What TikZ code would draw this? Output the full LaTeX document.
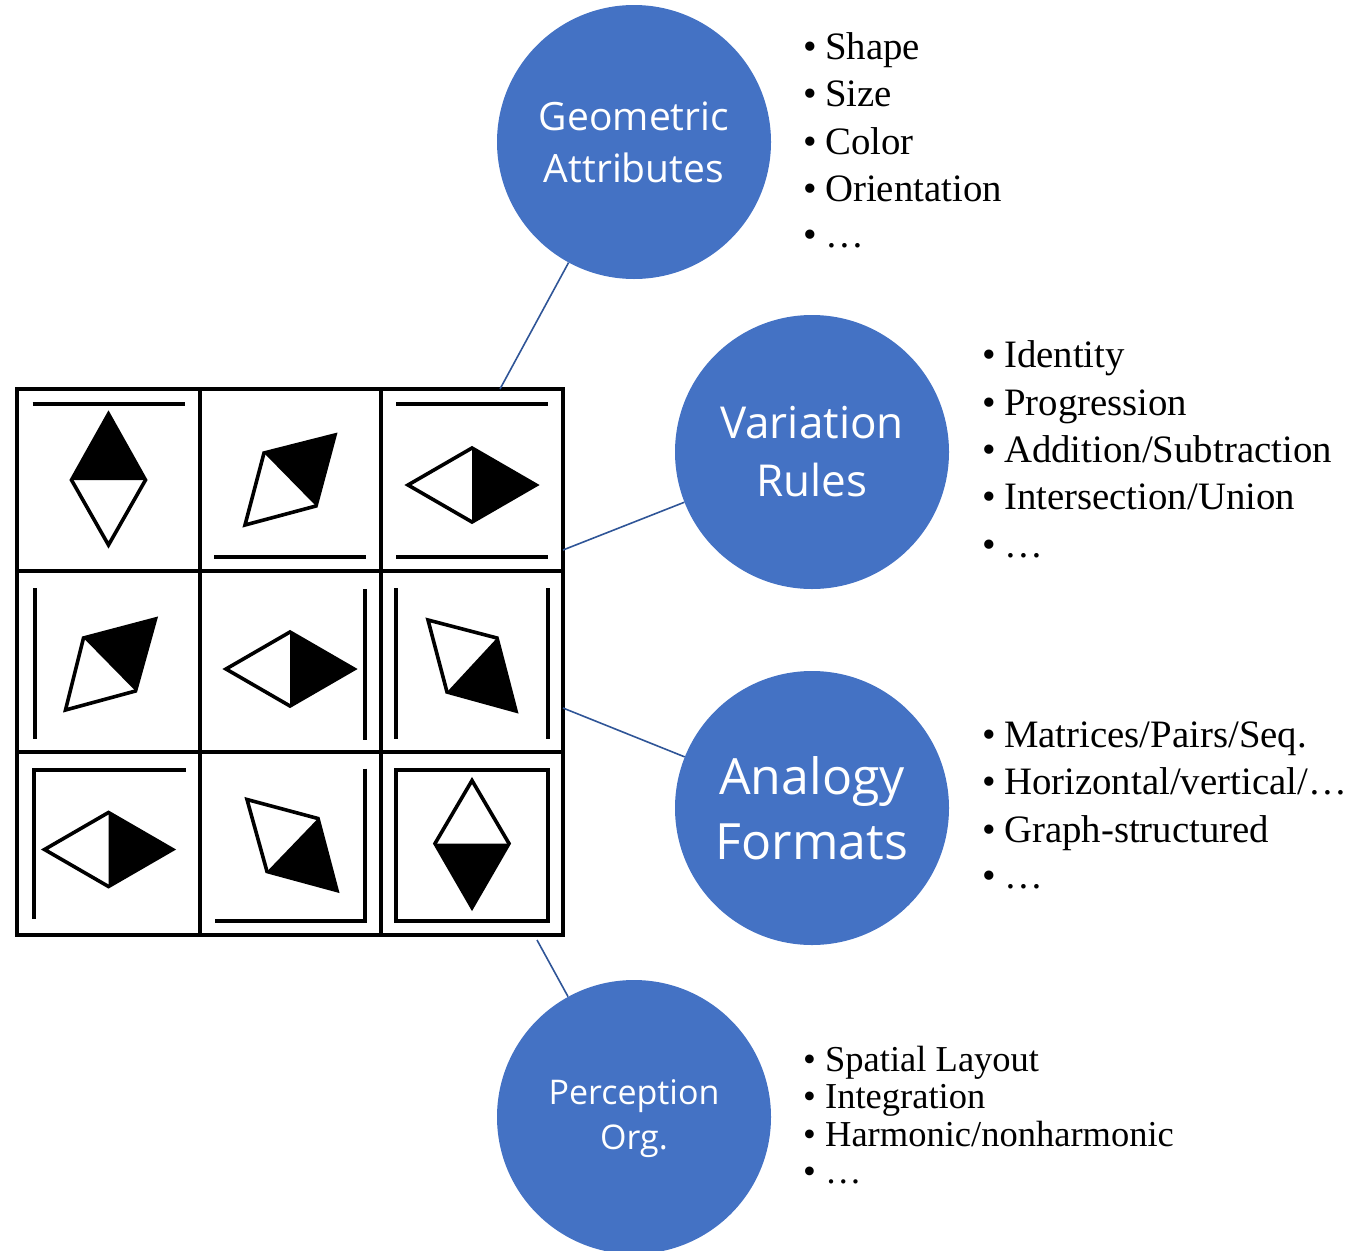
\documentclass[tikz,border=0pt]{standalone}
\usepackage{fontspec}
\setmainfont{Liberation Serif}
\setsansfont{Open Sans}
\usetikzlibrary{positioning}
\definecolor{topicblue}{HTML}{4472C4}
\definecolor{linkblue}{HTML}{2F5597}
\newcommand{\itm}{\makebox[22pt][l]{\textbullet}}
\begin{document}
\begin{tikzpicture}[x=1pt,y=-1pt,
    topic/.style={circle,fill=topicblue,text=white,minimum size=274pt,
      inner sep=0pt,align=center},
    item/.style={anchor=base west,inner sep=0pt,
      font=\fontsize{38.8}{46}\selectfont},
    smallitem/.style={item,font=\fontsize{36.5}{40}\selectfont},
    link/.style={draw=linkblue,line width=1.6pt},
    shp/.style={line width=3.6pt,line join=miter},
    bar/.style={line width=4pt}]

    \useasboundingbox (0,0) rectangle (1367,1250);

    % the matrix
    \node[draw,line width=4pt,minimum size=546pt,inner sep=0pt] (grid) at (290,662) {};
    \draw[line width=4pt] (200,389) -- (200,935);
    \draw[line width=4pt] (381,389) -- (381,935);
    \draw[line width=4pt] (17,571) -- (563,571);
    \draw[line width=4pt] (17,752) -- (563,752);

    % row 1
    \begin{scope}[shift={(108.5,480)}]
      \draw[bar] (-76,-76) -- (76,-76);
      \fill (0,-66) -- (37,0) -- (-37,0) -- cycle;
      \draw[shp] (0,-66) -- (37,0) -- (0,65) -- (-37,0) -- cycle;
    \end{scope}
    \begin{scope}[shift={(290,480)}]
      \draw[bar] (-76,77) -- (76,77);
      \fill (-26,-27) -- (45,-45) -- (26,26) -- cycle;
      \draw[shp] (-26,-27) -- (45,-45) -- (26,26) -- (-45,45) -- cycle;
    \end{scope}
    \begin{scope}[shift={(472,480)}]
      \draw[bar] (-76,-76) -- (76,-76);
      \draw[bar] (-76,77) -- (76,77);
      \fill (0,-32) -- (64,5) -- (0,42) -- cycle;
      \draw[shp] (-64,5) -- (0,-32) -- (64,5) -- (0,42) -- cycle;
    \end{scope}

    % row 2
    \begin{scope}[shift={(108.5,662)}]
      \draw[bar] (-74,-74) -- (-74,77);
      \fill (-25,-24) -- (47,-43) -- (27,29) -- cycle;
      \draw[shp] (-25,-24) -- (47,-43) -- (27,29) -- (-43,48) -- cycle;
    \end{scope}
    \begin{scope}[shift={(290,662)}]
      \draw[bar] (75,-73) -- (75,78);
      \fill (0,-30) -- (64,7) -- (0,44) -- cycle;
      \draw[shp] (-64,7) -- (0,-30) -- (64,7) -- (0,44) -- cycle;
    \end{scope}
    \begin{scope}[shift={(472,662)}]
      \draw[bar] (-76,-74) -- (-76,77);
      \draw[bar] (76,-74) -- (76,77);
      \fill (25,-24) -- (44,49) -- (-25,30) -- cycle;
      \draw[shp] (-44,-42) -- (25,-24) -- (44,49) -- (-25,30) -- cycle;
    \end{scope}

    % row 3
    \begin{scope}[shift={(108.5,843.5)}]
      \draw[bar] (-75,75) -- (-75,-74) -- (77,-74);
      \fill (0,-31) -- (64,6) -- (0,43) -- cycle;
      \draw[shp] (-64,6) -- (0,-31) -- (64,6) -- (0,43) -- cycle;
    \end{scope}
    \begin{scope}[shift={(290,843.5)}]
      \draw[bar] (75,-75) -- (75,77) -- (-75,77);
      \fill (28,-25) -- (47,47) -- (-23,28) -- cycle;
      \draw[shp] (-43,-44) -- (28,-25) -- (47,47) -- (-23,28) -- cycle;
    \end{scope}
    \begin{scope}[shift={(472,843.5)}]
      \draw[bar] (-76,-74) rectangle (76,77);
      \fill (-37,0) -- (37,0) -- (0,64) -- cycle;
      \draw[shp] (0,-63) -- (37,0) -- (0,64) -- (-37,0) -- cycle;
    \end{scope}

    % the topics
    \node[topic,font=\sffamily\fontsize{39}{52}\selectfont] (ga) at (634,142) {Geometric\\Attributes};
    \node[topic,font=\sffamily\fontsize{44}{58}\selectfont] (vr) at (812,452) {Variation\\Rules};
    \node[topic,font=\sffamily\fontsize{50}{65}\selectfont] (af) at (812,808) {Analogy\\Formats};
    \node[topic,font=\sffamily\fontsize{34}{45}\selectfont,text depth=4pt] (po) at (634,1117) {Perception\\Org.};

    % the links
    \coordinate (g1) at (500,389);
    \coordinate (g2) at (563,550);
    \coordinate (g3) at (563,708);
    \coordinate (g4) at (537,940);
    \draw[link] (g1) -- (ga);
    \draw[link] (g2) -- (vr);
    \draw[link] (g3) -- (af);
    \draw[link] (g4) -- (po);

    % the lists
    \node[item] (ga1) at (803,59) {\itm Shape};
    \node[item] (ga2) at (803,106) {\itm Size};
    \node[item] (ga3) at (803,154) {\itm Color};
    \node[item] (ga4) at (803,201) {\itm Orientation};
    \node[item] (ga5) at (803,247) {\itm \dots};

    \node[item] (vr1) at (982,367) {\itm Identity};
    \node[item] (vr2) at (982,415) {\itm Progression};
    \node[item] (vr3) at (982,462) {\itm Addition/Subtraction};
    \node[item] (vr4) at (982,509) {\itm Intersection/Union};
    \node[item] (vr5) at (982,557) {\itm \dots};

    \node[item] (af1) at (982,747) {\itm Matrices/Pairs/Seq.};
    \node[item] (af2) at (982,794) {\itm Horizontal/vertical/\dots};
    \node[item] (af3) at (982,842) {\itm Graph-structured};
    \node[item] (af4) at (982,888) {\itm \dots};

    \node[smallitem] (po1) at (803,1071) {\itm Spatial Layout};
    \node[smallitem] (po2) at (803,1108) {\itm Integration};
    \node[smallitem] (po3) at (803,1146) {\itm Harmonic/nonharmonic};
    \node[smallitem] (po4) at (803,1183) {\itm \dots};
  \end{tikzpicture}
\end{document}
